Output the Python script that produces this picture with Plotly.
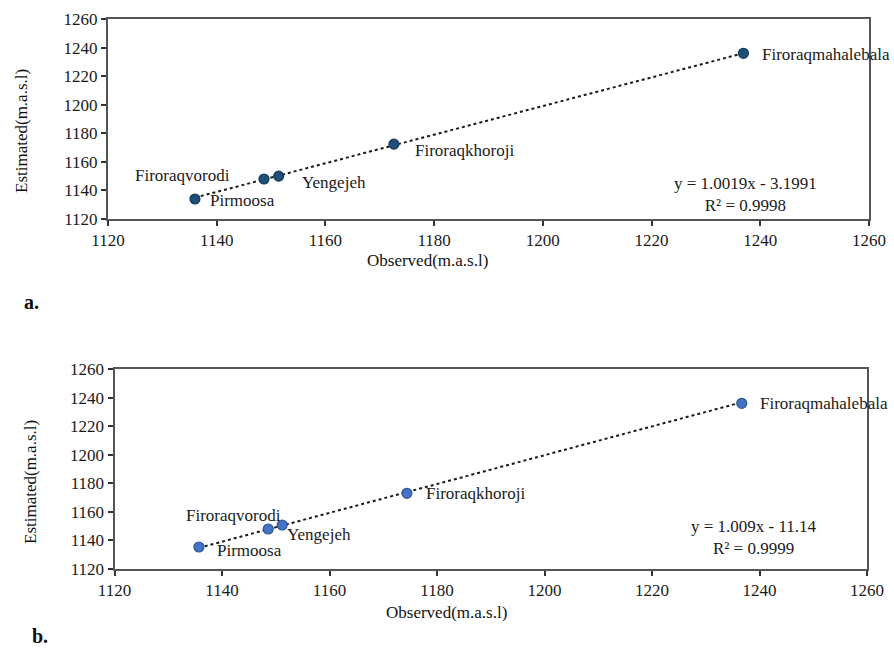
import plotly.graph_objects as go

# ---- data ----
stations = ["Pirmoosa", "Firoraqvorodi", "Yengejeh", "Firoraqkhoroji", "Firoraqmahalebala"]
observed_a = [1136.0, 1148.7, 1151.4, 1172.6, 1236.9]
estimated_a = [1134.0, 1148.0, 1150.0, 1172.4, 1236.0]
observed_b = [1135.7, 1148.6, 1151.2, 1174.4, 1236.7]
estimated_b = [1135.4, 1148.0, 1150.8, 1173.0, 1236.0]
fit_a = (1.0019, -3.1991)
fit_b = (1.009, -11.14)
eq_a = "y = 1.0019x - 3.1991<br>R² = 0.9998"
eq_b = "y = 1.009x - 11.14<br>R² = 0.9999"
tick_vals = [1120, 1140, 1160, 1180, 1200, 1220, 1240, 1260]

W, H = 894, 649
SERIF = "Liberation Serif, Times New Roman, serif"
TXT = "#1a1a1a"
FS = 17

def fx(s):
    return s / W

def fy(s):
    return 1 - s / H

fig = go.Figure()

panels = [
    dict(obs=observed_a, est=estimated_a, fit=fit_a, eq=eq_a, xa="x", ya="y",
         xdom=[fx(108), fx(869)], ydom=[fy(219), fy(19)],
         mcolor="#1F4E79", mline="#163A5C",
         labels=[("left", 13, -1), ("right", -32, 4), ("left", 21, -6),
                 ("left", 19, -6), ("left", 17, -1)],
         eqpos=(0.838, 0.12)),
    dict(obs=observed_b, est=estimated_b, fit=fit_b, eq=eq_b, xa="x2", ya="y2",
         xdom=[fx(114.5), fx(867)], ydom=[fy(569), fy(369)],
         mcolor="#4472C4", mline="#2F5597",
         labels=[("left", 16, -3), ("right", 15, 14), ("left", 3, -9),
                 ("left", 17, 0), ("left", 16, 0)],
         eqpos=(0.85, 0.16)),
]

layout_axes = {}
annotations = []
for i, p in enumerate(panels):
    xs = [min(p["obs"]), max(p["obs"])]
    ys = [p["fit"][0] * v + p["fit"][1] for v in xs]
    fig.add_trace(go.Scatter(x=xs, y=ys, mode="lines", xaxis=p["xa"], yaxis=p["ya"],
                             line=dict(color="#1a1a1a", width=2, dash="dot"),
                             showlegend=False, hoverinfo="skip"))
    fig.add_trace(go.Scatter(x=p["obs"], y=p["est"], mode="markers",
                             xaxis=p["xa"], yaxis=p["ya"],
                             marker=dict(size=10, color=p["mcolor"],
                                         line=dict(color=p["mline"], width=1.2)),
                             showlegend=False))
    for name, xv, yv, (anc, xs_, ys_) in zip(stations, p["obs"], p["est"], p["labels"]):
        annotations.append(dict(x=xv, y=yv, xref=p["xa"], yref=p["ya"], text=name,
                                showarrow=False, xanchor=anc, yanchor="middle",
                                xshift=xs_, yshift=ys_,
                                font=dict(family=SERIF, size=FS, color=TXT)))
    annotations.append(dict(x=p["eqpos"][0], y=p["eqpos"][1],
                            xref=p["xa"] + " domain", yref=p["ya"] + " domain",
                            text=p["eq"], showarrow=False, xanchor="center", yanchor="middle",
                            font=dict(family=SERIF, size=FS, color=TXT)))
    suffix = "" if i == 0 else "2"
    axcommon = dict(showgrid=False, zeroline=False, showline=True, linecolor="#555555",
                    linewidth=2, mirror=True, ticks="outside", ticklen=5, tickwidth=1.5,
                    tickcolor="#333333", range=[1120, 1260], tickvals=tick_vals,
                    automargin=False,
                    tickfont=dict(family=SERIF, size=FS, color=TXT))
    layout_axes["xaxis" + suffix] = dict(axcommon, domain=p["xdom"],
                                         anchor="y" + suffix)
    layout_axes["yaxis" + suffix] = dict(axcommon, domain=p["ydom"],
                                         anchor="x" + suffix)

def txt(x, y, s, size=FS, angle=0):
    return dict(x=fx(x), y=fy(y), xref="paper", yref="paper", text=s,
                showarrow=False, textangle=angle, xanchor="center", yanchor="middle",
                font=dict(family=SERIF, size=size, color="#111111"))

annotations += [
    txt(22, 131, "Estimated(m.a.s.l)", angle=-90),
    txt(427, 260, "Observed(m.a.s.l)"),
    txt(30, 482, "Estimated(m.a.s.l)", angle=-90),
    txt(446, 612, "Observed(m.a.s.l)"),
    txt(31, 302, "<b>a.</b>", size=20),
    txt(40, 636, "<b>b.</b>", size=20),
]

fig.update_layout(width=W, height=H,
                  margin=dict(l=0, r=0, t=0, b=0, pad=0, autoexpand=False),
                  paper_bgcolor="white", plot_bgcolor="white",
                  annotations=annotations, **layout_axes)

fig.write_html("out.html", config={"displayModeBar": False},
               post_script="document.body.style.margin='0';document.body.style.overflow='hidden';")
